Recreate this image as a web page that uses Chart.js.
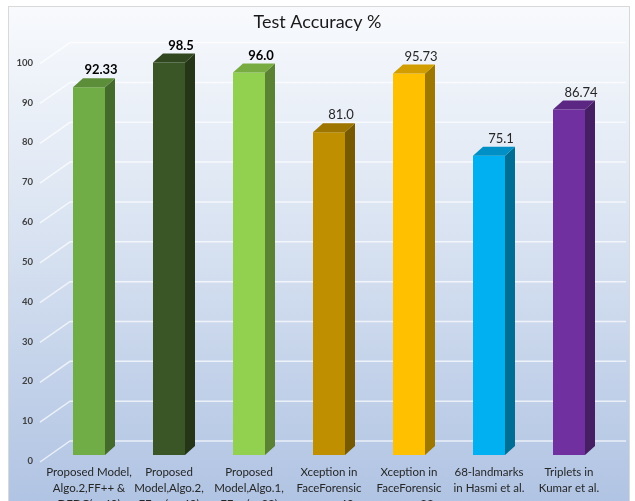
<!DOCTYPE html>
<html>
<head>
<meta charset="utf-8">
<script src="https://cdn.jsdelivr.net/npm/chart.js@4.4.1/dist/chart.umd.min.js"></script>
<style>
  html, body { margin: 0; padding: 0; overflow: hidden; background: #fff; }
  canvas { display: block; }
</style>
</head>
<body>
<canvas id="acc" width="635" height="516"></canvas>
<script>
// categories (multi-line axis labels)
const methods = [
  ['Proposed Model,', 'Algo.2,FF++ &', 'DFDC(c\u226440)'],
  ['Proposed', 'Model,Algo.2,', 'FF++( c\u226440)'],
  ['Proposed', 'Model,Algo.1,', 'FF++(c=23)'],
  ['Xception in', 'FaceForensic', 's++, c=40'],
  ['Xception in', 'FaceForensic', 's++, c=23'],
  ['68-landmarks', 'in Hasmi et al.'],
  ['Triplets in', 'Kumar et al.']
];
const accuracy = [92.33, 98.5, 96.0, 81.0, 95.73, 75.1, 86.74];
const accuracyText = ['92.33', '98.5', '96.0', '81.0', '95.73', '75.1', '86.74'];
const boldLabel = [true, true, true, false, false, false, false];
const frontColors = ['#70ad47', '#3b5626', '#92d050', '#bf8f00', '#ffc000', '#00b0f0', '#7030a0'];
const yTicks = [0, 10, 20, 30, 40, 50, 60, 70, 80, 90, 100];

// depth of the fake 3D box
const DX = 10, DY = -9;
const FONT = 'Lato, "Open Sans", sans-serif';

function shade(hex, f) {
  const n = parseInt(hex.slice(1), 16);
  const r = Math.round(((n >> 16) & 255) * f);
  const g = Math.round(((n >> 8) & 255) * f);
  const b = Math.round((n & 255) * f);
  return `rgb(${r},${g},${b})`;
}

// background panel + back wall grid lines
const wallPlugin = {
  id: 'wall',
  beforeDraw(chart) {
    const { ctx, width, height } = chart;
    ctx.save();
    ctx.fillStyle = '#ffffff';
    ctx.fillRect(0, 0, width, height);
    const g = ctx.createLinearGradient(0, 6, 0, height);
    g.addColorStop(0, '#f8fafd');
    g.addColorStop(0.35, '#e0e8f4');
    g.addColorStop(1, '#aec2e2');
    ctx.fillStyle = g;
    ctx.fillRect(8, 6, 622, height);
    ctx.strokeStyle = '#d9d9d9';
    ctx.lineWidth = 1;
    ctx.strokeRect(8.5, 6.5, 621, height);
    ctx.restore();
  },
  beforeDatasetsDraw(chart) {
    const { ctx } = chart;
    const y = chart.scales.y;
    const left = chart.chartArea.left;
    ctx.save();
    ctx.strokeStyle = 'rgba(255,255,255,0.7)';
    ctx.lineWidth = 1.5;
    yTicks.forEach(v => {
      const py = y.getPixelForValue(v);
      ctx.beginPath();
      ctx.moveTo(left - 9, py + 7);
      ctx.lineTo(left + 21, py - 14);
      ctx.lineTo(626, py - 14);
      ctx.stroke();
    });
    ctx.restore();
  }
};

// top and side faces of each bar, then the value labels
const boxPlugin = {
  id: 'box3d',
  afterDatasetsDraw(chart) {
    const { ctx } = chart;
    const meta = chart.getDatasetMeta(0);
    ctx.save();
    meta.data.forEach((bar, i) => {
      const { x, y, base, width } = bar.getProps(['x', 'y', 'base', 'width'], true);
      const l = x - width / 2, r = x + width / 2;
      const c = frontColors[i];
      // side face
      ctx.fillStyle = shade(c, 0.62);
      ctx.beginPath();
      ctx.moveTo(r, y);
      ctx.lineTo(r + DX, y + DY);
      ctx.lineTo(r + DX, base + DY);
      ctx.lineTo(r, base);
      ctx.closePath();
      ctx.fill();
      // top face
      ctx.fillStyle = shade(c, 0.82);
      ctx.beginPath();
      ctx.moveTo(l, y);
      ctx.lineTo(l + DX, y + DY);
      ctx.lineTo(r + DX, y + DY);
      ctx.lineTo(r, y);
      ctx.closePath();
      ctx.fill();

      ctx.fillStyle = boldLabel[i] ? '#000000' : '#262626';
      ctx.font = (boldLabel[i] ? 'bold ' : '') + '13px ' + FONT;
      ctx.textAlign = 'center';
      ctx.textBaseline = 'middle';
      ctx.fillText(accuracyText[i], x + 12, y - 17);
    });
    ctx.restore();
  }
};

new Chart(document.getElementById('acc'), {
  type: 'bar',
  data: {
    labels: methods,
    datasets: [{
      data: accuracy,
      backgroundColor: frontColors,
      borderWidth: 0,
      categoryPercentage: 1,
      barPercentage: 0.4
    }]
  },
  options: {
    responsive: false,
    animation: false,
    layout: { padding: 0 },
    plugins: {
      legend: { display: false },
      tooltip: { enabled: false },
      title: {
        display: true,
        text: 'Test Accuracy %',
        color: '#1a1a1a',
        font: { family: FONT, size: 18, weight: 'normal' },
        padding: { top: 11, bottom: 24 }
      }
    },
    scales: {
      x: {
        grid: { display: false, drawTicks: false },
        border: { display: false },
        ticks: {
          color: '#262626',
          font: { family: FONT, size: 11.5, lineHeight: 1.4 },
          padding: 9,
          maxRotation: 0,
          autoSkip: false
        },
        afterFit(scale) { scale.height = 61; }
      },
      y: {
        min: 0,
        max: 100,
        grid: { display: false, drawTicks: false },
        border: { display: false },
        ticks: {
          stepSize: 10,
          color: '#404040',
          font: { family: FONT, size: 9.5, weight: 'bold' },
          padding: 16,
          labelOffset: 6
        },
        afterFit(scale) { scale.width = 49; }
      },
      // empty right-hand box that leaves room for the bar depth
      yRight: {
        position: 'right',
        min: 0,
        max: 100,
        grid: { display: false, drawTicks: false },
        border: { display: false },
        ticks: { display: false },
        afterFit(scale) { scale.width = 26; }
      }
    }
  },
  plugins: [wallPlugin, boxPlugin]
});
</script>
</body>
</html>
